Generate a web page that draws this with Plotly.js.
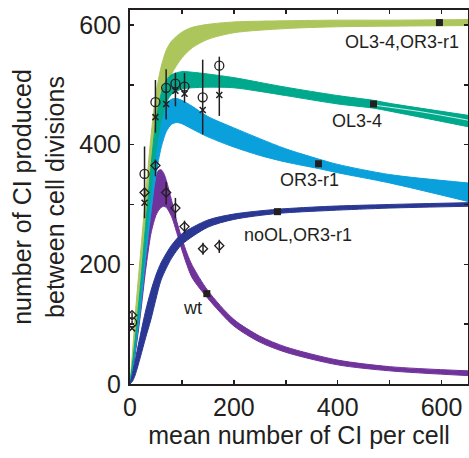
<!DOCTYPE html>
<html>
<head>
<meta charset="utf-8">
<script src="https://cdn.plot.ly/plotly-3.0.1.min.js"></script>
<style>html,body{margin:0;padding:0;background:#fff;}#chart{width:469px;height:458px;}</style>
</head>
<body>
<div id="chart"></div>
<script>
// ---- Model bands (each drawn as the envelope of many model curves) ----
// OL3-4,OR3-r1 (yellow-green)
const olorX     = [0, 5, 10, 20, 30, 40, 50, 60, 70, 80, 100, 120, 150, 200, 300, 400, 500, 651];
const olorUpper = [0, 55, 115, 215, 315, 410, 485, 530, 558, 573, 588, 596, 601, 605, 607, 608, 608, 609];
const olorLower = [0, 40, 85, 180, 270, 350, 420, 465, 497, 518, 545, 562, 576, 587, 594, 597, 598, 599];

// OL3-4 (teal)
const olX     = [0, 5, 10, 20, 30, 40, 50, 60, 70, 80, 100, 120, 150, 200, 250, 300, 400, 469, 500, 651];
const olUpper = [0, 35, 75, 165, 265, 360, 440, 485, 508, 517, 522, 521, 518, 512, 504, 496, 482, 474, 469, 449];
const olLower = [0, 30, 65, 145, 235, 320, 390, 440, 470, 484, 493, 495, 496, 495, 489, 482, 468, 461, 456, 430];
// split between sub-families of OL3-4 curves at the right end
const olSplitX = [470, 560, 651];
const olSplitY = [466, 455, 441];

// OR3-r1 (light blue)
const orX     = [0, 5, 10, 20, 30, 40, 50, 60, 70, 80, 90, 100, 120, 150, 200, 250, 300, 363, 400, 500, 651];
const orUpper = [0, 30, 65, 150, 245, 335, 405, 448, 468, 476, 477, 474, 464, 447, 428, 410, 393, 376, 367, 350, 336];
const orLower = [0, 25, 55, 125, 210, 285, 350, 395, 422, 434, 437, 435, 426, 413, 396, 382, 371, 360, 353, 336, 305];

// wt (purple)
const wtX     = [0, 5, 10, 20, 30, 40, 45, 50, 55, 60, 65, 70, 80, 90, 100, 110, 120, 150, 200, 250, 300, 400, 500, 651];
const wtUpper = [0, 25, 55, 125, 205, 280, 320, 345, 357, 358, 352, 340, 307, 272, 243, 218, 198, 156, 108, 80, 62, 40, 29, 22];
const wtLower = [0, 22, 50, 115, 190, 250, 268, 282, 290, 295, 297, 295, 280, 253, 224, 198, 177, 143, 97, 70, 53, 32, 22, 14];

// noOL,OR3-r1 (dark blue)
const noolX     = [0, 5, 10, 20, 30, 40, 50, 60, 80, 100, 150, 200, 284, 386, 500, 651];
const noolUpper = [0, 18, 40, 82, 122, 155, 182, 203, 232, 251, 274, 284, 292, 297, 300, 303];
const noolLower = [0, 5, 15, 45, 77, 107, 142, 174, 210, 233, 262, 275, 285, 290, 294, 297];

// ---- Black square markers on each band ----
const squareX = [596, 469, 363, 284, 148];
const squareY = [604, 468, 368, 288, 151];

// ---- Curve labels ----
const labelText = ["OL3-4,OR3-r1", "OL3-4", "OR3-r1", "noOL,OR3-r1", "wt"];
const labelX    = [523, 438, 345, 323, 121];
const labelY    = [571, 440, 341, 249, 127];

// ---- Experimental data ----
const circX   = [4, 28, 49, 69.6, 87.5, 105, 140, 172];
const circY   = [103, 351, 471, 495, 502, 497, 479, 532];
const circTop = [106, 397, 508, 526, 520, 520, 542, 547];
const circBot = [100, 277, 420, 442, 464, 470, 417, 448];

const crossX = [4, 28, 49, 69.6, 87.5, 105, 140, 172];
const crossY = [93, 303, 446, 468, 490, 485, 458, 483];

const diaX   = [4, 28, 49, 69.6, 87.5, 105, 140.6, 172];
const diaY   = [115, 320, 365, 320, 294, 263, 226, 231];
const diaTop = [120, 327, 375, 338, 311, 273, 236, 241];
const diaBot = [110, 313, 347, 300, 277, 252, 216, 219];

const INK = '#231f20';
const FONT = 'Liberation Sans, Arial, Helvetica, sans-serif';

function band(x, lo, hi, color, name) {
  return [
    {x: x, y: lo, type: 'scatter', mode: 'lines', line: {color: color, width: 1, shape: 'spline', smoothing: 0.8},
     hoverinfo: 'skip', showlegend: false, name: name + ' lower'},
    {x: x, y: hi, type: 'scatter', mode: 'lines', fill: 'tonexty', fillcolor: color,
     line: {color: color, width: 1, shape: 'spline', smoothing: 0.8}, showlegend: false, name: name}
  ];
}

const traces = [].concat(
  band(wtX, wtLower, wtUpper, '#6f339b', 'wt'),
  band(olorX, olorLower, olorUpper, '#adc65c', 'OL3-4,OR3-r1'),
  band(orX, orLower, orUpper, '#0aa0dc', 'OR3-r1'),
  band(olX, olLower, olUpper, '#00a98c', 'OL3-4'),
  [{x: olSplitX, y: olSplitY, type: 'scatter', mode: 'lines',
    line: {color: '#ffffff', width: 0.8, shape: 'spline'}, showlegend: false, hoverinfo: 'skip'}],
  band(noolX, noolLower, noolUpper, '#2b3893', 'noOL,OR3-r1'),
  [
    {x: squareX, y: squareY, type: 'scatter', mode: 'markers',
     marker: {symbol: 'square', size: 7, color: INK}, showlegend: false},
    {x: circX, y: circY, type: 'scatter', mode: 'markers',
     marker: {symbol: 'circle-open', size: 9, color: INK, line: {width: 1.3, color: INK}},
     error_y: {type: 'data', symmetric: false,
               array: circTop.map((t, i) => t - circY[i]),
               arrayminus: circBot.map((b, i) => circY[i] - b),
               color: INK, thickness: 1.5, width: 0},
     showlegend: false},
    {x: crossX, y: crossY, type: 'scatter', mode: 'markers',
     marker: {symbol: 'x-thin-open', size: 6, color: INK, line: {width: 1.5, color: INK}}, showlegend: false},
    {x: diaX, y: diaY, type: 'scatter', mode: 'markers',
     marker: {symbol: 'diamond-open', size: 7, color: INK, line: {width: 1.3, color: INK}},
     error_y: {type: 'data', symmetric: false,
               array: diaTop.map((t, i) => t - diaY[i]),
               arrayminus: diaBot.map((b, i) => diaY[i] - b),
               color: INK, thickness: 1.5, width: 0},
     showlegend: false}
  ]
);

const annotations = labelText.map((t, i) => ({
  x: labelX[i], y: labelY[i], xref: 'x', yref: 'y', text: t, showarrow: false,
  font: {family: FONT, size: 18, color: INK}
}));

const axisCommon = {
  showline: true, linecolor: INK, linewidth: 2, mirror: 'ticks',
  ticks: 'inside', ticklen: 4, tickwidth: 1.5, tickcolor: INK,
  showgrid: false, zeroline: false,
  tickfont: {family: FONT, size: 25, color: INK},
  minor: {dtick: 100, ticks: 'inside', ticklen: 4, tickwidth: 1.5, tickcolor: INK, showgrid: false}
};

const layout = {
  width: 469, height: 458,
  margin: {l: 130, r: 1, t: 10, b: 74},
  paper_bgcolor: '#ffffff', plot_bgcolor: '#ffffff',
  showlegend: false,
  xaxis: Object.assign({}, axisCommon, {
    range: [0, 651], tickvals: [0, 200, 400, 600], ticktext: ['0', '200', '400', '600'],
    title: {text: 'mean number of CI per cell', font: {family: FONT, size: 25, color: INK}, standoff: 6}
  }),
  yaxis: Object.assign({}, axisCommon, {
    range: [0, 625], tickvals: [0, 200, 400, 600], ticktext: ['0', '200', '400', '600'],
    ticklabelstandoff: 2,
    title: {text: 'number of CI produced<br>between cell divisions', font: {family: FONT, size: 25, color: INK}, standoff: 8}
  }),
  annotations: annotations
};

Plotly.newPlot('chart', traces, layout, {staticPlot: true, displayModeBar: false});
</script>
</body>
</html>
